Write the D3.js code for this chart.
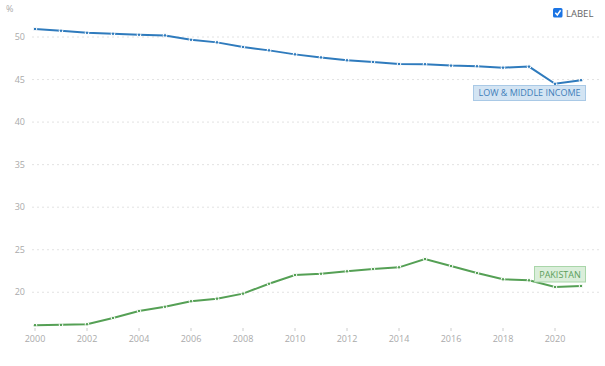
<!DOCTYPE html>
<html>
<head>
<meta charset="utf-8">
<script src="https://cdn.jsdelivr.net/npm/d3@7"></script>
<style>
  body { margin: 0; background: #fff; font-family: "Open Sans", sans-serif; }
</style>
</head>
<body>
<svg width="605" height="366"></svg>
<script>
// data
const years = d3.range(2000, 2022);
const lowMiddle = [50.94, 50.74, 50.5, 50.39, 50.27, 50.19, 49.68, 49.37, 48.83, 48.43, 47.96,
  47.6, 47.26, 47.07, 46.83, 46.8, 46.64, 46.56, 46.4, 46.52, 44.5, 44.92];
const pakistan = [16.13, 16.17, 16.24, 16.98, 17.8, 18.3, 18.94, 19.25, 19.84, 21.0, 22.03,
  22.18, 22.46, 22.73, 22.93, 23.9, 23.08, 22.26, 21.52, 21.4, 20.62, 20.74];
const yTicks = [20, 25, 30, 35, 40, 45, 50];
const xTicks = [2000, 2002, 2004, 2006, 2008, 2010, 2012, 2014, 2016, 2018, 2020];

const series = [
  { name: "LOW & MIDDLE INCOME", values: lowMiddle, color: "#2f7bbd", fill: "#d3e4f3", stroke: "#a9c9e6", text: "#3f7fba" },
  { name: "PAKISTAN", values: pakistan, color: "#55a055", fill: "#daeeda", stroke: "#a9d6a9", text: "#5c9e5c" },
];

const svg = d3.select("svg");

const x = d3.scaleLinear().domain([2000, 2021]).range([35, 581]);
const y = d3.scaleLinear().domain([15.8, 52]).range([328, 20]);

// gridlines + y labels
svg.append("g")
  .selectAll("line")
  .data(yTicks)
  .join("line")
  .attr("x1", 32)
  .attr("x2", 600)
  .attr("y1", (d) => y(d))
  .attr("y2", (d) => y(d))
  .attr("stroke", "#e2e2e2")
  .attr("stroke-dasharray", "2,3");

svg.append("g")
  .selectAll("text")
  .data(yTicks)
  .join("text")
  .attr("x", 25)
  .attr("y", (d) => y(d) + 3)
  .attr("text-anchor", "end")
  .attr("font-size", 9)
  .attr("fill", "#aaa")
  .text((d) => d);

svg.append("text")
  .attr("x", 6)
  .attr("y", 12)
  .attr("font-size", 9)
  .attr("fill", "#aaa")
  .text("%");

// x ticks + labels
const xg = svg.append("g");
xg.selectAll("line")
  .data(xTicks)
  .join("line")
  .attr("x1", (d) => x(d))
  .attr("x2", (d) => x(d))
  .attr("y1", 328)
  .attr("y2", 331)
  .attr("stroke", "#ccc");

xg.selectAll("text")
  .data(xTicks)
  .join("text")
  .attr("x", (d) => x(d))
  .attr("y", 342)
  .attr("text-anchor", "middle")
  .attr("font-size", 9)
  .attr("fill", "#aaa")
  .text((d) => d);

// lines
const line = d3.line()
  .x((d, i) => x(years[i]))
  .y((d) => y(d));

series.forEach(function (s) {
  svg.append("path")
    .datum(s.values)
    .attr("fill", "none")
    .attr("stroke", s.color)
    .attr("stroke-width", 2)
    .attr("d", line);

  svg.append("g")
    .selectAll("circle")
    .data(s.values)
    .join("circle")
    .attr("cx", (d, i) => x(years[i]))
    .attr("cy", (d) => y(d))
    .attr("r", 1.8)
    .attr("fill", s.color)
    .attr("stroke", "#fff")
    .attr("stroke-width", 1);
});

// end labels
function drawLabel(s, x0, y0, w, h) {
  const g = svg.append("g").attr("transform", `translate(${x0},${y0})`);
  g.append("rect")
    .attr("width", w)
    .attr("height", h)
    .attr("fill", s.fill)
    .attr("stroke", s.stroke)
    .attr("stroke-width", 1);
  g.append("text")
    .attr("x", w / 2)
    .attr("y", h / 2 + 3.3)
    .attr("text-anchor", "middle")
    .attr("font-size", 9)
    .attr("fill", s.text)
    .text(s.name);
}
drawLabel(series[0], 473.5, 85.5, 112, 15);
drawLabel(series[1], 534.5, 266.5, 51, 15.5);

// checkbox
svg.append("rect")
  .attr("x", 553)
  .attr("y", 8)
  .attr("width", 9.5)
  .attr("height", 9.5)
  .attr("rx", 1.5)
  .attr("fill", "#1b74e4");
svg.append("path")
  .attr("d", "M555.3,12.8 L557.3,15 L560.6,10.3")
  .attr("fill", "none")
  .attr("stroke", "#fff")
  .attr("stroke-width", 1.5);
svg.append("text")
  .attr("x", 566)
  .attr("y", 16.5)
  .attr("font-size", 9.5)
  .attr("fill", "#666")
  .text("LABEL");
</script>
</body>
</html>
